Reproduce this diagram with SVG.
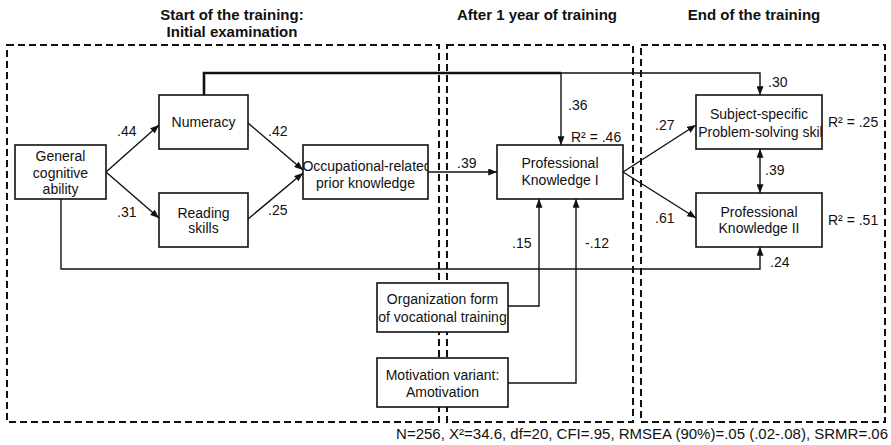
<svg xmlns="http://www.w3.org/2000/svg" width="891" height="445" viewBox="0 0 891 445">
  <style>
    .hdr { font-family: "Liberation Sans", Arial, sans-serif; font-size: 15px; font-weight: bold; fill: #111; text-anchor: middle; }
    .lbl { font-family: "Liberation Sans", Arial, sans-serif; font-size: 14px; fill: #111; }
    .nt { font-family: "Liberation Sans", Arial, sans-serif; font-size: 14px; fill: #111; text-anchor: middle; }
    .node rect { fill: #fff; stroke: #111; stroke-width: 1.6; }
    .phase { fill: none; stroke: #111; stroke-width: 2; stroke-dasharray: 7 4; }
    .edge { fill: none; stroke: #111; stroke-width: 1.4; }
    .thick { stroke-width: 2.6; }
    .foot { font-family: "Liberation Sans", Arial, sans-serif; font-size: 15px; fill: #111; text-anchor: end; }
  </style>
  <defs>
    <marker id="arr" viewBox="0 0 10 8" refX="10" refY="4" markerWidth="9" markerHeight="7" markerUnits="userSpaceOnUse" orient="auto-start-reverse">
      <path d="M0,0 L10,4 L0,8 z" fill="#111"/>
    </marker>
    <clipPath id="clipOpk"><rect x="303" y="145" width="125" height="54"/></clipPath>
    <clipPath id="clipSps"><rect x="696" y="95" width="126" height="54"/></clipPath>
  </defs>

  <rect width="891" height="445" fill="#fff"/>

  <!-- phase headings -->
  <text class="hdr" x="232" y="20">Start of the training:</text>
  <text class="hdr" x="232" y="37">Initial examination</text>
  <text class="hdr" x="537" y="20">After 1 year of training</text>
  <text class="hdr" x="754" y="20">End of the training</text>

  <!-- phase frames -->
  <g id="phases">
    <rect class="phase" x="7" y="45" width="432" height="377"/>
    <rect class="phase" x="447" y="45" width="186" height="377"/>
    <rect class="phase" x="641" y="45" width="244" height="377"/>
  </g>

  <!-- connectors -->
  <g id="connectors">
    <line class="edge" x1="106" y1="172" x2="159" y2="125" marker-end="url(#arr)"/>
    <line class="edge" x1="106" y1="172" x2="159" y2="218" marker-end="url(#arr)"/>
    <line class="edge" x1="248" y1="123" x2="303" y2="170" marker-end="url(#arr)"/>
    <line class="edge" x1="248" y1="219" x2="303" y2="173" marker-end="url(#arr)"/>
    <line class="edge" x1="428" y1="172" x2="497" y2="172" marker-end="url(#arr)"/>
    <polyline class="edge thick" points="204,95 204,73 561,73"/>
    <polyline class="edge" points="561,73 760,73 760,95" marker-end="url(#arr)"/>
    <line class="edge" x1="561" y1="73" x2="561" y2="145" marker-end="url(#arr)"/>
    <line class="edge" x1="623" y1="172" x2="696" y2="125" marker-end="url(#arr)"/>
    <line class="edge" x1="623" y1="172" x2="696" y2="218" marker-end="url(#arr)"/>
    <line class="edge" x1="760" y1="149" x2="760" y2="193" marker-start="url(#arr)" marker-end="url(#arr)"/>
    <polyline class="edge" points="61,199 61,269 760,269 760,247" marker-end="url(#arr)"/>
    <polyline class="edge" points="508,306 539,306 539,199" marker-end="url(#arr)"/>
    <polyline class="edge" points="508,383 576,383 576,199" marker-end="url(#arr)"/>
  </g>

  <!-- path coefficients -->
  <g id="coefficients">
    <text class="lbl" x="117" y="136">.44</text>
    <text class="lbl" x="117" y="217">.31</text>
    <text class="lbl" x="268" y="136">.42</text>
    <text class="lbl" x="268" y="215">.25</text>
    <text class="lbl" x="457" y="168">.39</text>
    <text class="lbl" x="568" y="110">.36</text>
    <text class="lbl" x="571" y="142">R² = .46</text>
    <text class="lbl" x="768" y="87">.30</text>
    <text class="lbl" x="655" y="130">.27</text>
    <text class="lbl" x="655" y="223">.61</text>
    <text class="lbl" x="765" y="175">.39</text>
    <text class="lbl" x="828" y="127">R² = .25</text>
    <text class="lbl" x="828" y="225">R² = .51</text>
    <text class="lbl" x="512" y="248">.15</text>
    <text class="lbl" x="585" y="248">-.12</text>
    <text class="lbl" x="770" y="267">.24</text>
  </g>

  <!-- nodes -->
  <g id="gca" class="node">
    <rect x="15" y="145" width="91" height="54"/>
    <text class="nt" x="60.5" y="161">General</text>
    <text class="nt" x="60.5" y="177.5">cognitive</text>
    <text class="nt" x="60.5" y="194">ability</text>
  </g>
  <g id="numeracy" class="node">
    <rect x="159" y="95" width="89" height="54"/>
    <text class="nt" x="203.5" y="127">Numeracy</text>
  </g>
  <g id="reading" class="node">
    <rect x="159" y="193" width="89" height="54"/>
    <text class="nt" x="203.5" y="218">Reading</text>
    <text class="nt" x="203.5" y="233">skills</text>
  </g>
  <g id="prior" class="node">
    <rect x="303" y="145" width="125" height="54"/>
    <g clip-path="url(#clipOpk)">
      <text class="nt" x="367" y="171">Occupational-related</text>
      <text class="nt" x="365.5" y="188">prior knowledge</text>
    </g>
  </g>
  <g id="pk1" class="node">
    <rect x="497" y="145" width="126" height="54"/>
    <text class="nt" x="560" y="168">Professional</text>
    <text class="nt" x="560" y="185">Knowledge  I</text>
  </g>
  <g id="problem" class="node">
    <rect x="696" y="95" width="126" height="54"/>
    <g clip-path="url(#clipSps)">
      <text class="nt" x="759" y="119">Subject-specific</text>
      <text class="nt" x="762" y="137">Problem-solving  skill</text>
    </g>
  </g>
  <g id="pk2" class="node">
    <rect x="696" y="193" width="126" height="54"/>
    <text class="nt" x="759" y="217">Professional</text>
    <text class="nt" x="759" y="233">Knowledge  II</text>
  </g>
  <g id="orgform" class="node">
    <rect x="377" y="283" width="131" height="49"/>
    <text class="nt" x="442.5" y="304">Organization form</text>
    <text class="nt" x="442.5" y="322">of vocational training</text>
  </g>
  <g id="motivation" class="node">
    <rect x="377" y="358" width="131" height="49"/>
    <text class="nt" x="442.5" y="380">Motivation variant:</text>
    <text class="nt" x="442.5" y="397">Amotivation</text>
  </g>

  <text class="foot" x="888" y="439">N=256, X²=34.6, df=20, CFI=.95, RMSEA (90%)=.05 (.02-.08), SRMR=.06</text>
</svg>
